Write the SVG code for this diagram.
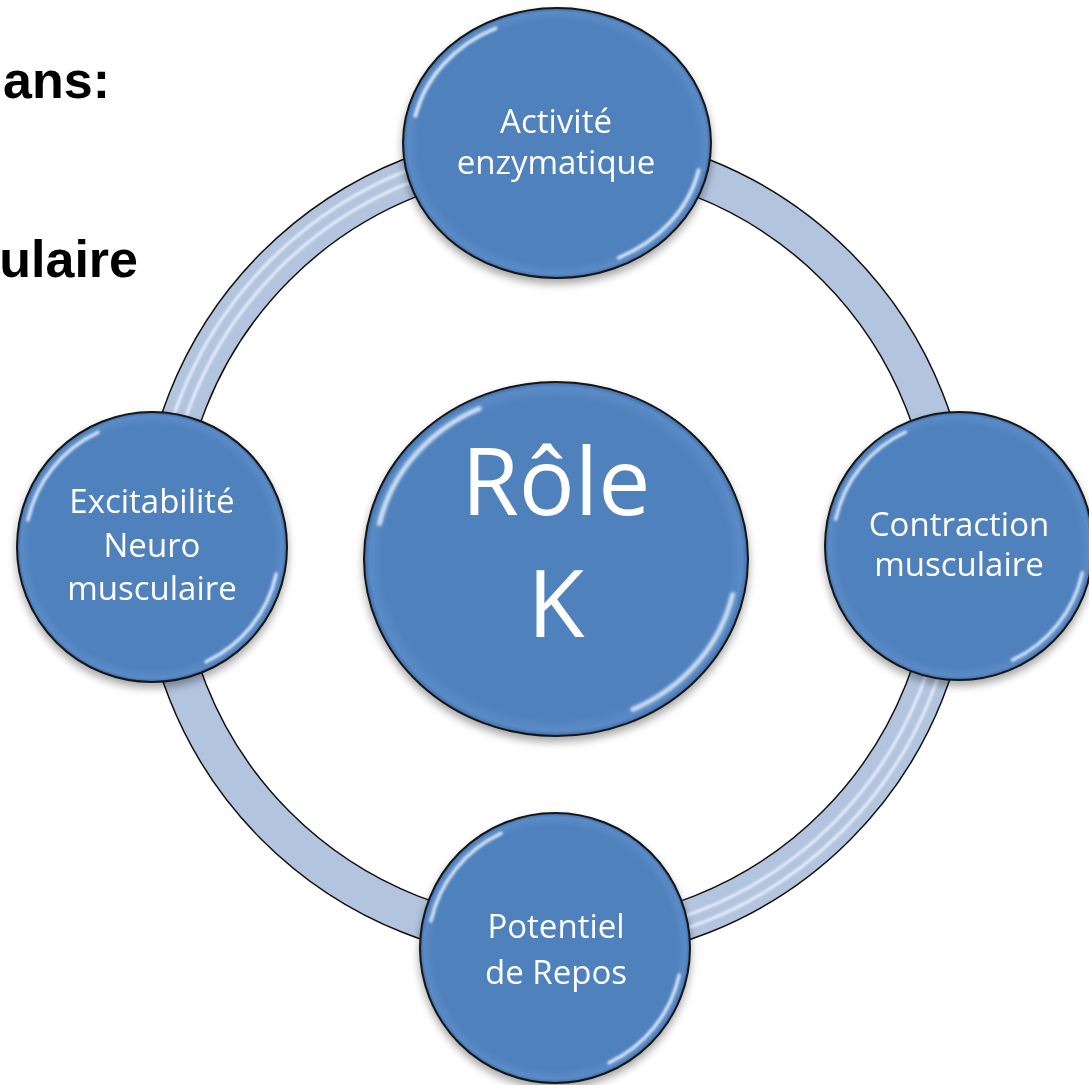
<svg xmlns="http://www.w3.org/2000/svg" xmlns:xlink="http://www.w3.org/1999/xlink" width="1089" height="1085" viewBox="0 0 1089 1085">
  <defs>
    <style>
      .heading { font-family: "Liberation Sans", Arial, sans-serif; font-weight: bold; font-size: 52px; fill: #000; }
      .label { font-family: "Open Sans", "Noto Sans", sans-serif; font-size: 33px; fill: #fff; text-anchor: middle; }
      .big { font-family: "Open Sans", "Noto Sans", sans-serif; font-size: 93px; fill: #fff; text-anchor: middle; }
      .node-body { fill: url(#nodeFill); stroke: #141414; stroke-width: 2; filter: url(#shadow); }
      .gloss { fill: none; stroke: #e8f2ff; stroke-linecap: round; }
    </style>
    <radialGradient id="nodeFill" cx="0.5" cy="0.5" r="0.5">
      <stop offset="0" stop-color="#4f81bd"/>
      <stop offset="0.9" stop-color="#4f81bd"/>
      <stop offset="0.97" stop-color="#5a8bc6"/>
      <stop offset="1" stop-color="#3f6ea8"/>
    </radialGradient>
    <filter id="shadow" x="-20%" y="-20%" width="140%" height="150%">
      <feGaussianBlur in="SourceAlpha" stdDeviation="4"/>
      <feOffset dy="5" result="off"/>
      <feComponentTransfer><feFuncA type="linear" slope="0.35"/></feComponentTransfer>
      <feMerge><feMergeNode/><feMergeNode in="SourceGraphic"/></feMerge>
    </filter>
    <filter id="soft" x="-10%" y="-10%" width="120%" height="120%">
      <feGaussianBlur stdDeviation="0.8"/>
    </filter>
    <!-- glossy rim highlights for a node of radius 100 centred on 0,0 -->
    <g id="gloss" filter="url(#soft)">
      <path class="gloss" d="M -92,-20 A 94 94 0 0 1 -40,-85" stroke-width="2.6" opacity="0.85"/>
      <path class="gloss" d="M 92,20 A 94 94 0 0 1 40,85" stroke-width="2.6" opacity="0.85"/>
    </g>
  </defs>

  <rect width="1089" height="1085" fill="#fff"/>

  <!-- partial heading text at the left edge -->
  <text class="heading" x="110" y="98" text-anchor="end">ans:</text>
  <text class="heading" x="138" y="277" text-anchor="end">ulaire</text>

  <!-- connectors: the ring joining the four outer nodes -->
  <g id="connectors">
    <circle cx="556" cy="546" r="396" fill="none" stroke="#111" stroke-width="41"/>
    <circle cx="556" cy="546" r="396" fill="none" stroke="#b3c4df" stroke-width="38"/>
    <g fill="none" stroke="#eaf2fd" stroke-width="3" opacity="0.9" filter="url(#soft)">
      <path d="M 164,546 A 392 392 0 0 1 556,154"/>
      <path d="M 152,546 A 404 404 0 0 1 556,142"/>
      <path d="M 948,546 A 392 392 0 0 1 556,938"/>
      <path d="M 960,546 A 404 404 0 0 1 556,950"/>
    </g>
  </g>

  <g id="node-activite">
    <ellipse class="node-body" cx="557" cy="143" rx="154" ry="135"/>
    <use xlink:href="#gloss" transform="translate(557,143) scale(1.54,1.35)"/>
    <text class="label" x="556" y="133">Activité</text>
    <text class="label" x="556" y="174">enzymatique</text>
  </g>

  <g id="node-excitabilite">
    <circle class="node-body" cx="152" cy="547" r="135"/>
    <use xlink:href="#gloss" transform="translate(152,547) scale(1.35)"/>
    <text class="label" x="152" y="513">Excitabilité</text>
    <text class="label" x="152" y="557">Neuro</text>
    <text class="label" x="152" y="600">musculaire</text>
  </g>

  <g id="node-contraction">
    <circle class="node-body" cx="959" cy="546" r="134"/>
    <use xlink:href="#gloss" transform="translate(959,546) scale(1.34)"/>
    <text class="label" x="959" y="536">Contraction</text>
    <text class="label" x="959" y="576">musculaire</text>
  </g>

  <g id="node-potentiel">
    <circle class="node-body" cx="555" cy="948" r="135"/>
    <use xlink:href="#gloss" transform="translate(555,948) scale(1.35)"/>
    <text class="label" x="556" y="938">Potentiel</text>
    <text class="label" x="556" y="984">de Repos</text>
  </g>

  <g id="node-role">
    <ellipse class="node-body" cx="556" cy="559" rx="192" ry="177"/>
    <use xlink:href="#gloss" transform="translate(556,559) scale(1.92,1.77)"/>
    <text class="big" x="556" y="515">Rôle</text>
    <text class="big" x="556" y="637">K</text>
  </g>
</svg>
